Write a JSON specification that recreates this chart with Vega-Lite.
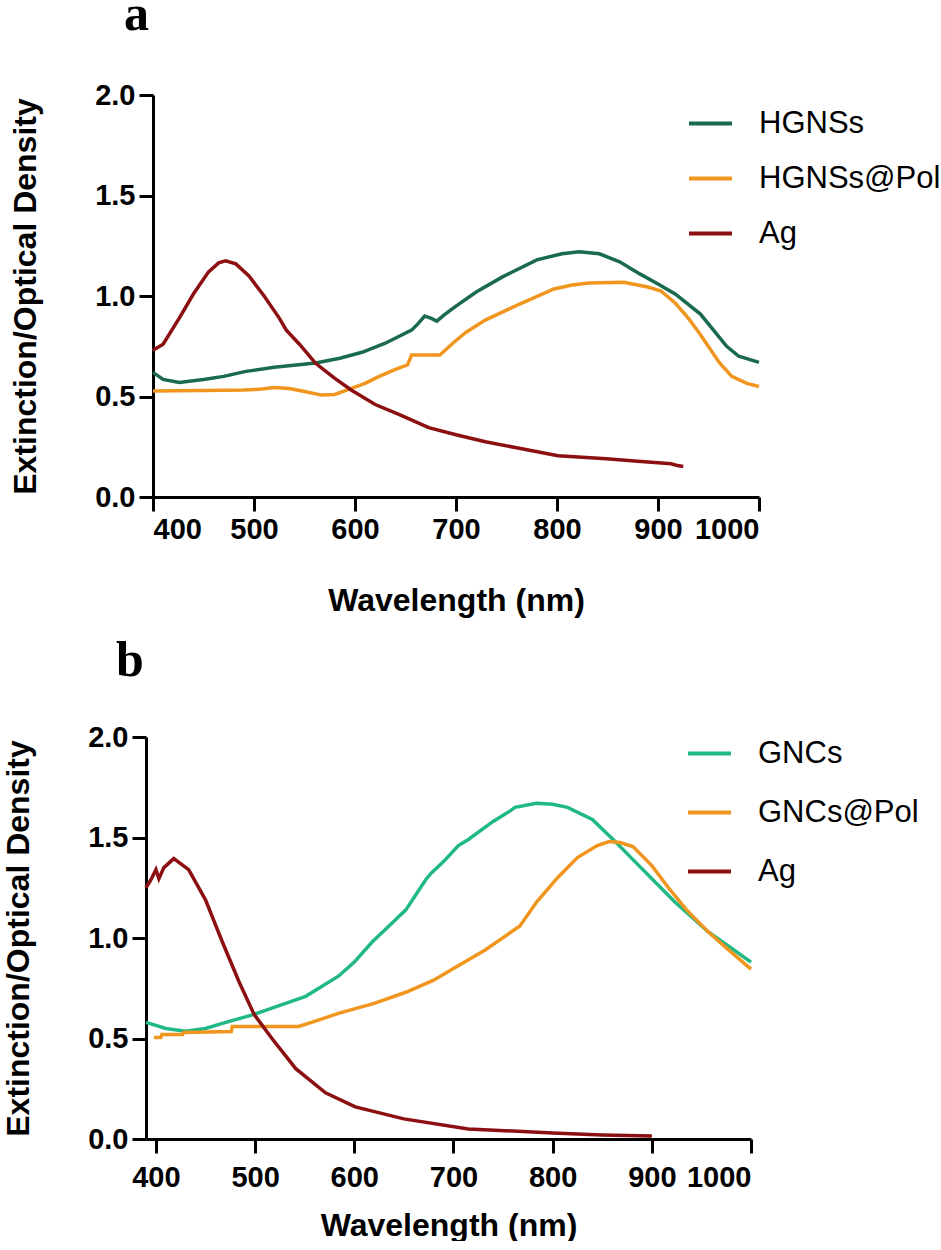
{
  "$schema": "https://vega.github.io/schema/vega-lite/v6.json",
  "background": "white",
  "padding": {"left": 2, "top": -10, "right": 0, "bottom": 0},
  "spacing": 20,
  "config": {
    "view": {"stroke": null},
    "font": "Liberation Sans",
    "axis": {"domainColor": "black", "domainWidth": 3, "tickColor": "black", "tickWidth": 3, "tickSize": 14, "grid": false, "labelFont": "Liberation Sans", "labelFontWeight": "bold", "labelFontSize": 29, "labelColor": "black", "titleFont": "Liberation Sans", "titleFontWeight": "bold", "titleFontSize": 32, "titleColor": "black", "labelPadding": 4},
    "legend": {"labelFont": "Liberation Sans", "labelFontSize": 31, "labelColor": "black", "symbolType": "stroke", "symbolStrokeWidth": 4, "symbolSize": 1849, "labelOffset": 25, "padding": 0, "labelLimit": 400},
    "title": {"font": "Liberation Serif", "fontWeight": "bold", "fontSize": 50, "anchor": "start", "color": "black", "frame": "group"}
  },
  "datasets": {
    "a": [
      {"wl": 400, "od": 0.62, "s": "HGNSs"}, {"wl": 410, "od": 0.585, "s": "HGNSs"}, {"wl": 426, "od": 0.57, "s": "HGNSs"}, {"wl": 450, "od": 0.585, "s": "HGNSs"}, {"wl": 470, "od": 0.6, "s": "HGNSs"}, {"wl": 492, "od": 0.625, "s": "HGNSs"}, {"wl": 520, "od": 0.645, "s": "HGNSs"}, {"wl": 561, "od": 0.667, "s": "HGNSs"}, {"wl": 585, "od": 0.69, "s": "HGNSs"}, {"wl": 607, "od": 0.72, "s": "HGNSs"}, {"wl": 630, "od": 0.765, "s": "HGNSs"}, {"wl": 656, "od": 0.83, "s": "HGNSs"}, {"wl": 662, "od": 0.86, "s": "HGNSs"}, {"wl": 669, "od": 0.9, "s": "HGNSs"}, {"wl": 675, "od": 0.89, "s": "HGNSs"}, {"wl": 681, "od": 0.875, "s": "HGNSs"}, {"wl": 688, "od": 0.905, "s": "HGNSs"}, {"wl": 700, "od": 0.95, "s": "HGNSs"}, {"wl": 720, "od": 1.02, "s": "HGNSs"}, {"wl": 746, "od": 1.095, "s": "HGNSs"}, {"wl": 780, "od": 1.18, "s": "HGNSs"}, {"wl": 805, "od": 1.21, "s": "HGNSs"}, {"wl": 822, "od": 1.22, "s": "HGNSs"}, {"wl": 842, "od": 1.21, "s": "HGNSs"}, {"wl": 862, "od": 1.17, "s": "HGNSs"}, {"wl": 882, "od": 1.11, "s": "HGNSs"}, {"wl": 900, "od": 1.06, "s": "HGNSs"}, {"wl": 917, "od": 1.01, "s": "HGNSs"}, {"wl": 942, "od": 0.91, "s": "HGNSs"}, {"wl": 968, "od": 0.75, "s": "HGNSs"}, {"wl": 980, "od": 0.7, "s": "HGNSs"}, {"wl": 1000, "od": 0.67, "s": "HGNSs"},
      {"wl": 400, "od": 0.527, "s": "HGNSs@Pol"}, {"wl": 450, "od": 0.53, "s": "HGNSs@Pol"}, {"wl": 490, "od": 0.532, "s": "HGNSs@Pol"}, {"wl": 508, "od": 0.537, "s": "HGNSs@Pol"}, {"wl": 520, "od": 0.545, "s": "HGNSs@Pol"}, {"wl": 535, "od": 0.54, "s": "HGNSs@Pol"}, {"wl": 550, "od": 0.525, "s": "HGNSs@Pol"}, {"wl": 567, "od": 0.507, "s": "HGNSs@Pol"}, {"wl": 580, "od": 0.51, "s": "HGNSs@Pol"}, {"wl": 591, "od": 0.53, "s": "HGNSs@Pol"}, {"wl": 610, "od": 0.565, "s": "HGNSs@Pol"}, {"wl": 624, "od": 0.6, "s": "HGNSs@Pol"}, {"wl": 640, "od": 0.635, "s": "HGNSs@Pol"}, {"wl": 652, "od": 0.657, "s": "HGNSs@Pol"}, {"wl": 656, "od": 0.706, "s": "HGNSs@Pol"}, {"wl": 684, "od": 0.706, "s": "HGNSs@Pol"}, {"wl": 698, "od": 0.77, "s": "HGNSs@Pol"}, {"wl": 710, "od": 0.82, "s": "HGNSs@Pol"}, {"wl": 729, "od": 0.88, "s": "HGNSs@Pol"}, {"wl": 763, "od": 0.96, "s": "HGNSs@Pol"}, {"wl": 797, "od": 1.035, "s": "HGNSs@Pol"}, {"wl": 815, "od": 1.055, "s": "HGNSs@Pol"}, {"wl": 832, "od": 1.065, "s": "HGNSs@Pol"}, {"wl": 866, "od": 1.068, "s": "HGNSs@Pol"}, {"wl": 890, "od": 1.045, "s": "HGNSs@Pol"}, {"wl": 903, "od": 1.025, "s": "HGNSs@Pol"}, {"wl": 917, "od": 0.965, "s": "HGNSs@Pol"}, {"wl": 930, "od": 0.89, "s": "HGNSs@Pol"}, {"wl": 941, "od": 0.815, "s": "HGNSs@Pol"}, {"wl": 961, "od": 0.667, "s": "HGNSs@Pol"}, {"wl": 973, "od": 0.6, "s": "HGNSs@Pol"}, {"wl": 988, "od": 0.565, "s": "HGNSs@Pol"}, {"wl": 1000, "od": 0.55, "s": "HGNSs@Pol"},
      {"wl": 400, "od": 0.73, "s": "Ag"}, {"wl": 410, "od": 0.76, "s": "Ag"}, {"wl": 426, "od": 0.89, "s": "Ag"}, {"wl": 440, "od": 1.01, "s": "Ag"}, {"wl": 455, "od": 1.12, "s": "Ag"}, {"wl": 465, "od": 1.165, "s": "Ag"}, {"wl": 472, "od": 1.175, "s": "Ag"}, {"wl": 482, "od": 1.16, "s": "Ag"}, {"wl": 495, "od": 1.1, "s": "Ag"}, {"wl": 510, "od": 1.0, "s": "Ag"}, {"wl": 525, "od": 0.89, "s": "Ag"}, {"wl": 532, "od": 0.83, "s": "Ag"}, {"wl": 545, "od": 0.76, "s": "Ag"}, {"wl": 561, "od": 0.665, "s": "Ag"}, {"wl": 580, "od": 0.59, "s": "Ag"}, {"wl": 597, "od": 0.53, "s": "Ag"}, {"wl": 620, "od": 0.46, "s": "Ag"}, {"wl": 644, "od": 0.41, "s": "Ag"}, {"wl": 673, "od": 0.345, "s": "Ag"}, {"wl": 700, "od": 0.31, "s": "Ag"}, {"wl": 729, "od": 0.275, "s": "Ag"}, {"wl": 760, "od": 0.245, "s": "Ag"}, {"wl": 801, "od": 0.205, "s": "Ag"}, {"wl": 849, "od": 0.19, "s": "Ag"}, {"wl": 880, "od": 0.178, "s": "Ag"}, {"wl": 900, "od": 0.17, "s": "Ag"}, {"wl": 913, "od": 0.165, "s": "Ag"}, {"wl": 918, "od": 0.158, "s": "Ag"}, {"wl": 925, "od": 0.152, "s": "Ag"}
    ],
    "b": [
      {"wl": 390, "od": 0.58, "s": "GNCs"}, {"wl": 410, "od": 0.55, "s": "GNCs"}, {"wl": 430, "od": 0.536, "s": "GNCs"}, {"wl": 450, "od": 0.55, "s": "GNCs"}, {"wl": 467, "od": 0.575, "s": "GNCs"}, {"wl": 499, "od": 0.62, "s": "GNCs"}, {"wl": 525, "od": 0.665, "s": "GNCs"}, {"wl": 551, "od": 0.71, "s": "GNCs"}, {"wl": 584, "od": 0.81, "s": "GNCs"}, {"wl": 600, "od": 0.88, "s": "GNCs"}, {"wl": 618, "od": 0.98, "s": "GNCs"}, {"wl": 635, "od": 1.06, "s": "GNCs"}, {"wl": 652, "od": 1.14, "s": "GNCs"}, {"wl": 672, "od": 1.29, "s": "GNCs"}, {"wl": 678, "od": 1.325, "s": "GNCs"}, {"wl": 690, "od": 1.38, "s": "GNCs"}, {"wl": 705, "od": 1.46, "s": "GNCs"}, {"wl": 715, "od": 1.49, "s": "GNCs"}, {"wl": 740, "od": 1.58, "s": "GNCs"}, {"wl": 758, "od": 1.635, "s": "GNCs"}, {"wl": 762, "od": 1.65, "s": "GNCs"}, {"wl": 784, "od": 1.67, "s": "GNCs"}, {"wl": 800, "od": 1.665, "s": "GNCs"}, {"wl": 815, "od": 1.65, "s": "GNCs"}, {"wl": 840, "od": 1.59, "s": "GNCs"}, {"wl": 861, "od": 1.49, "s": "GNCs"}, {"wl": 888, "od": 1.355, "s": "GNCs"}, {"wl": 923, "od": 1.18, "s": "GNCs"}, {"wl": 957, "od": 1.03, "s": "GNCs"}, {"wl": 980, "od": 0.95, "s": "GNCs"}, {"wl": 1000, "od": 0.88, "s": "GNCs"},
      {"wl": 398, "od": 0.505, "s": "GNCs@Pol"}, {"wl": 405, "od": 0.505, "s": "GNCs@Pol"}, {"wl": 406, "od": 0.52, "s": "GNCs@Pol"}, {"wl": 427, "od": 0.52, "s": "GNCs@Pol"}, {"wl": 428, "od": 0.53, "s": "GNCs@Pol"}, {"wl": 476, "od": 0.535, "s": "GNCs@Pol"}, {"wl": 477, "od": 0.56, "s": "GNCs@Pol"}, {"wl": 544, "od": 0.56, "s": "GNCs@Pol"}, {"wl": 560, "od": 0.585, "s": "GNCs@Pol"}, {"wl": 584, "od": 0.625, "s": "GNCs@Pol"}, {"wl": 620, "od": 0.675, "s": "GNCs@Pol"}, {"wl": 652, "od": 0.73, "s": "GNCs@Pol"}, {"wl": 680, "od": 0.79, "s": "GNCs@Pol"}, {"wl": 697, "od": 0.84, "s": "GNCs@Pol"}, {"wl": 732, "od": 0.94, "s": "GNCs@Pol"}, {"wl": 767, "od": 1.06, "s": "GNCs@Pol"}, {"wl": 784, "od": 1.18, "s": "GNCs@Pol"}, {"wl": 805, "od": 1.3, "s": "GNCs@Pol"}, {"wl": 825, "od": 1.4, "s": "GNCs@Pol"}, {"wl": 845, "od": 1.46, "s": "GNCs@Pol"}, {"wl": 857, "od": 1.48, "s": "GNCs@Pol"}, {"wl": 868, "od": 1.475, "s": "GNCs@Pol"}, {"wl": 881, "od": 1.455, "s": "GNCs@Pol"}, {"wl": 900, "od": 1.36, "s": "GNCs@Pol"}, {"wl": 916, "od": 1.255, "s": "GNCs@Pol"}, {"wl": 935, "od": 1.14, "s": "GNCs@Pol"}, {"wl": 957, "od": 1.03, "s": "GNCs@Pol"}, {"wl": 980, "od": 0.93, "s": "GNCs@Pol"}, {"wl": 1000, "od": 0.845, "s": "GNCs@Pol"},
      {"wl": 390, "od": 1.25, "s": "Ag"}, {"wl": 395, "od": 1.29, "s": "Ag"}, {"wl": 400, "od": 1.34, "s": "Ag"}, {"wl": 403, "od": 1.295, "s": "Ag"}, {"wl": 408, "od": 1.35, "s": "Ag"}, {"wl": 418, "od": 1.395, "s": "Ag"}, {"wl": 433, "od": 1.34, "s": "Ag"}, {"wl": 450, "od": 1.19, "s": "Ag"}, {"wl": 467, "od": 0.98, "s": "Ag"}, {"wl": 484, "od": 0.78, "s": "Ag"}, {"wl": 499, "od": 0.62, "s": "Ag"}, {"wl": 517, "od": 0.5, "s": "Ag"}, {"wl": 541, "od": 0.35, "s": "Ag"}, {"wl": 571, "od": 0.23, "s": "Ag"}, {"wl": 601, "od": 0.16, "s": "Ag"}, {"wl": 650, "od": 0.1, "s": "Ag"}, {"wl": 715, "od": 0.05, "s": "Ag"}, {"wl": 800, "od": 0.03, "s": "Ag"}, {"wl": 850, "od": 0.02, "s": "Ag"}, {"wl": 900, "od": 0.015, "s": "Ag"}
    ]
  },
  "vconcat": [
    {
      "width": 613,
      "height": 402,
      "title": {"text": "a", "dx": -22, "offset": 41},
      "data": {"name": "a"},
      "mark": {"type": "line", "strokeWidth": 3.5},
      "encoding": {
        "x": {"field": "wl", "type": "quantitative", "scale": {"domain": [400, 1000], "range": [7, 613], "nice": false, "zero": false}, "axis": {"values": [400, 500, 600, 700, 800, 900, 1000], "format": "d", "title": "Wavelength (nm)", "titlePadding": 41}},
        "y": {"field": "od", "type": "quantitative", "scale": {"domain": [0, 2], "nice": false}, "axis": {"values": [0, 0.5, 1, 1.5, 2], "format": ".1f", "title": "Extinction/Optical Density", "titlePadding": 52, "offset": -7}},
        "color": {"field": "s", "type": "nominal", "scale": {"domain": ["HGNSs", "HGNSs@Pol", "Ag"], "range": ["#1a6b4e", "#f0961e", "#8c0f12"]}, "legend": {"title": null, "orient": "none", "legendX": 541, "legendY": 5, "rowPadding": 16}}
      }
    },
    {
      "width": 605,
      "height": 402,
      "title": {"text": "b", "dx": -30, "offset": 37},
      "data": {"name": "b"},
      "mark": {"type": "line", "strokeWidth": 3.5},
      "encoding": {
        "x": {"field": "wl", "type": "quantitative", "scale": {"domain": [390, 1000], "nice": false, "zero": false}, "axis": {"values": [400, 500, 600, 700, 800, 900, 1000], "format": "d", "title": "Wavelength (nm)", "titlePadding": 18, "labelPadding": 10}},
        "y": {"field": "od", "type": "quantitative", "scale": {"domain": [0, 2], "nice": false}, "axis": {"values": [0, 0.5, 1, 1.5, 2], "format": ".1f", "title": "Extinction/Optical Density", "titlePadding": 52}},
        "color": {"field": "s", "type": "nominal", "scale": {"domain": ["GNCs", "GNCs@Pol", "Ag"], "range": ["#20b985", "#f0961e", "#8c0f12"]}, "legend": {"title": null, "orient": "none", "legendX": 540, "legendY": -7, "rowPadding": 20}}
      }
    }
  ],
  "resolve": {"scale": {"color": "independent", "x": "independent", "y": "independent"}, "legend": {"color": "independent"}}
}
